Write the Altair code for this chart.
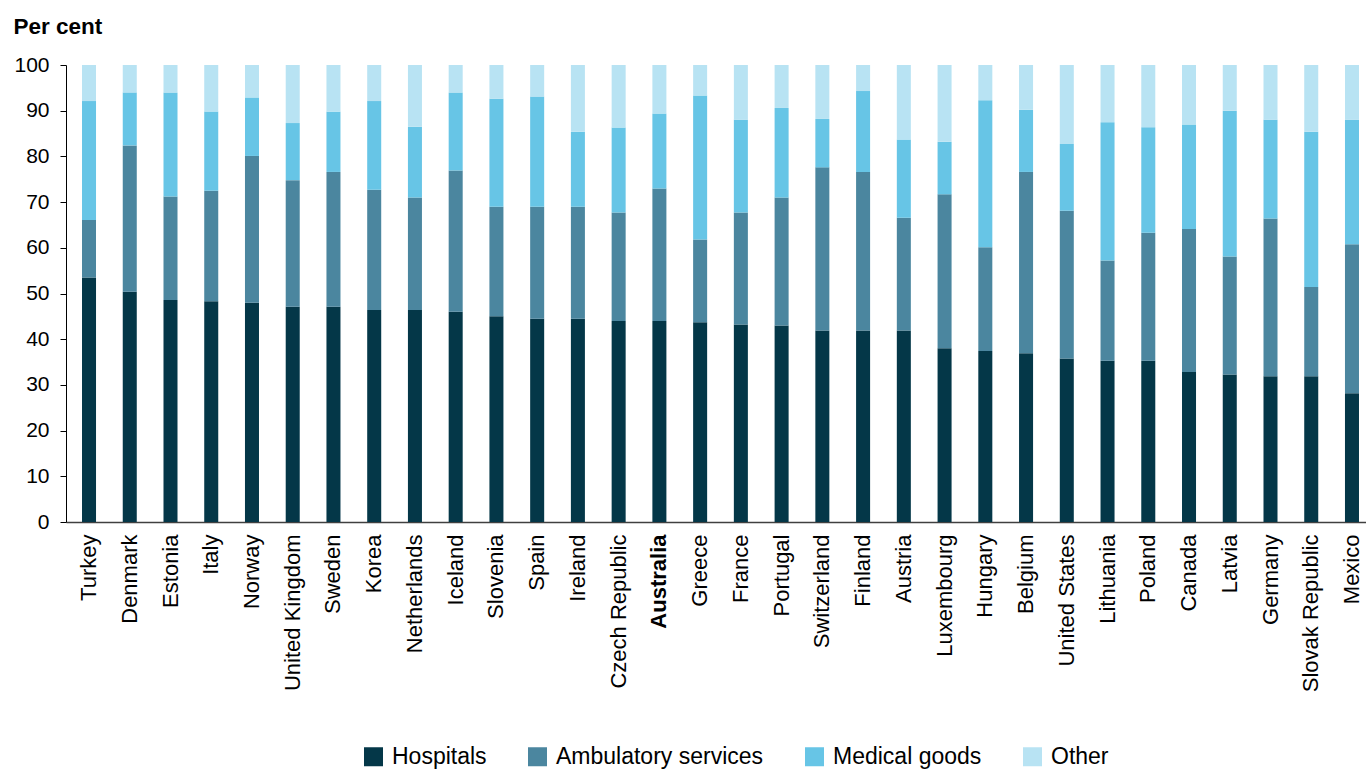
import altair as alt
import pandas as pd

countries = [
    "Turkey", "Denmark", "Estonia", "Italy", "Norway", "United Kingdom", "Sweden",
    "Korea", "Netherlands", "Iceland", "Slovenia", "Spain", "Ireland",
    "Czech Republic", "Australia", "Greece", "France", "Portugal", "Switzerland",
    "Finland", "Austria", "Luxembourg", "Hungary", "Belgium", "United States",
    "Lithuania", "Poland", "Canada", "Latvia", "Germany", "Slovak Republic", "Mexico",
]

hospitals = [53.5, 50.4, 48.6, 48.3, 48.0, 47.1, 47.1, 46.4, 46.4, 46.0, 45.0,
             44.5, 44.5, 44.0, 44.0, 43.7, 43.2, 43.0, 41.9, 41.9, 41.9, 38.0,
             37.4, 36.9, 35.8, 35.3, 35.3, 32.8, 32.3, 31.9, 31.9, 28.2]
ambulatory = [12.6, 32.0, 22.6, 24.2, 32.1, 27.7, 29.5, 26.3, 24.6, 30.9, 24.0,
              24.5, 24.5, 23.7, 29.0, 18.1, 24.5, 28.0, 35.7, 34.7, 24.7, 33.7,
              22.7, 39.7, 32.3, 21.9, 28.0, 31.3, 25.8, 34.5, 19.5, 32.6]
medical_goods = [26.0, 11.6, 22.8, 17.3, 12.8, 12.5, 13.2, 19.4, 15.5, 17.1, 23.6,
                 24.1, 16.4, 18.6, 16.4, 31.5, 20.3, 19.6, 10.6, 17.7, 17.1, 11.5,
                 32.2, 13.6, 14.6, 30.3, 23.1, 22.9, 31.9, 21.6, 34.0, 27.2]
other = [7.9, 6.0, 6.0, 10.2, 7.1, 12.7, 10.2, 7.9, 13.5, 6.0, 7.4,
         6.9, 14.6, 13.7, 10.6, 6.7, 12.0, 9.4, 11.8, 5.7, 16.3, 16.8,
         7.7, 9.8, 17.3, 12.5, 13.6, 13.0, 10.0, 12.0, 14.6, 12.0]

categories = ["Hospitals", "Ambulatory services", "Medical goods", "Other"]
colors = ["#043748", "#4b869f", "#67c5e6", "#b8e3f3"]

series = [hospitals, ambulatory, medical_goods, other]
rows = []
for k, (cat, vals) in enumerate(zip(categories, series)):
    for country, v in zip(countries, vals):
        rows.append({"country": country, "category": cat, "value": v, "order": k})
df = pd.DataFrame(rows)

font = "Liberation Sans"

chart = alt.Chart(df).mark_bar().encode(
    x=alt.X(
        "country:N",
        sort=countries,
        scale=alt.Scale(range=[0, 1309], paddingInner=0.656, paddingOuter=0.393),
        axis=alt.Axis(
            title=None,
            labelAngle=270,
            labelAlign="right",
            labelBaseline="middle",
            labelFont=font,
            labelFontSize=22,
            labelColor="#000000",
            labelPadding=12,
            labelFontWeight=alt.ExprRef("datum.value === 'Australia' ? 'bold' : 'normal'"),
            ticks=False,
            domainColor="#404040",
            domainWidth=1.5,
        ),
    ),
    y=alt.Y(
        "value:Q",
        stack="zero",
        scale=alt.Scale(domain=[0, 100], nice=False),
        axis=alt.Axis(
            title="Per cent",
            titleAngle=0,
            titleAlign="left",
            titleBaseline="alphabetic",
            titleX=-53,
            titleY=-32,
            titleFont=font,
            titleFontSize=22.5,
            titleFontWeight="bold",
            titleColor="#000000",
            values=list(range(0, 101, 10)),
            labelFont=font,
            labelFontSize=21,
            labelColor="#000000",
            labelPadding=11,
            tickSize=6,
            tickColor="#000000",
            domainColor="#000000",
            grid=False,
        ),
    ),
    color=alt.Color(
        "category:N",
        sort=categories,
        scale=alt.Scale(domain=categories, range=colors),
        legend=alt.Legend(
            title=None,
            orient="none",
            direction="horizontal",
            columns=4,
            legendX=296,
            legendY=680,
            symbolType="square",
            symbolSize=361,
            symbolStrokeWidth=0,
            symbolOpacity=1,
            labelFont=font,
            labelFontSize=23,
            labelColor="#000000",
            labelOffset=7,
            columnPadding=39,
            labelLimit=400,
        ),
    ),
    order=alt.Order("order:Q", sort="ascending"),
).properties(
    width=1300,
    height=457,
    autosize=alt.AutoSizeParams(type="none"),
    padding={"left": 66, "top": 65, "right": 0, "bottom": 248},
).configure_view(
    stroke=None,
)

chart.save("out.html", embed_options={"renderer": "svg", "actions": False})
